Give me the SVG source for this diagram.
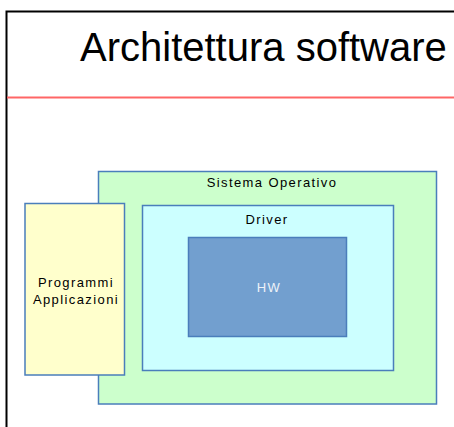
<svg xmlns="http://www.w3.org/2000/svg" width="454" height="427" viewBox="0 0 454 427">
  <style>
    .box { stroke: #4a7ebb; stroke-width: 1.5; }
    .lbl { font-family: "Liberation Sans", Arial, sans-serif; font-size: 13px; letter-spacing: 1.4px; text-anchor: middle; fill: #000; }
  </style>
  <!-- slide background and frame -->
  <rect x="0" y="0" width="454" height="427" fill="#ffffff"/>
  <path d="M6.5 427 V11.5 H454" fill="none" stroke="#000" stroke-width="2"/>
  <text x="80" y="61" font-family="Liberation Sans, Arial, sans-serif" font-size="40" fill="#000">Architettura software</text>
  <line x1="7" y1="97.5" x2="454" y2="97.5" stroke="#ff6666" stroke-width="2"/>

  <g id="sistema-operativo">
    <rect class="box" x="98.5" y="171.5" width="338" height="232.5" fill="#ccffcc"/>
    <text class="lbl" x="272" y="187">Sistema Operativo</text>
  </g>
  <g id="programmi">
    <rect class="box" x="25" y="203.5" width="99.5" height="171.5" fill="#ffffcc"/>
    <text class="lbl" x="76" y="286.5">Programmi</text>
    <text class="lbl" x="76" y="304">Applicazioni</text>
  </g>
  <g id="driver">
    <rect class="box" x="142.5" y="205.5" width="251" height="165" fill="#ccffff"/>
    <text class="lbl" x="267" y="224">Driver</text>
  </g>
  <g id="hw">
    <rect class="box" x="188.5" y="237.5" width="158" height="99" fill="#729fcf"/>
    <text class="lbl" x="269" y="292" style="fill:#eef2f8">HW</text>
  </g>
  <g id="connectors"/>
</svg>
